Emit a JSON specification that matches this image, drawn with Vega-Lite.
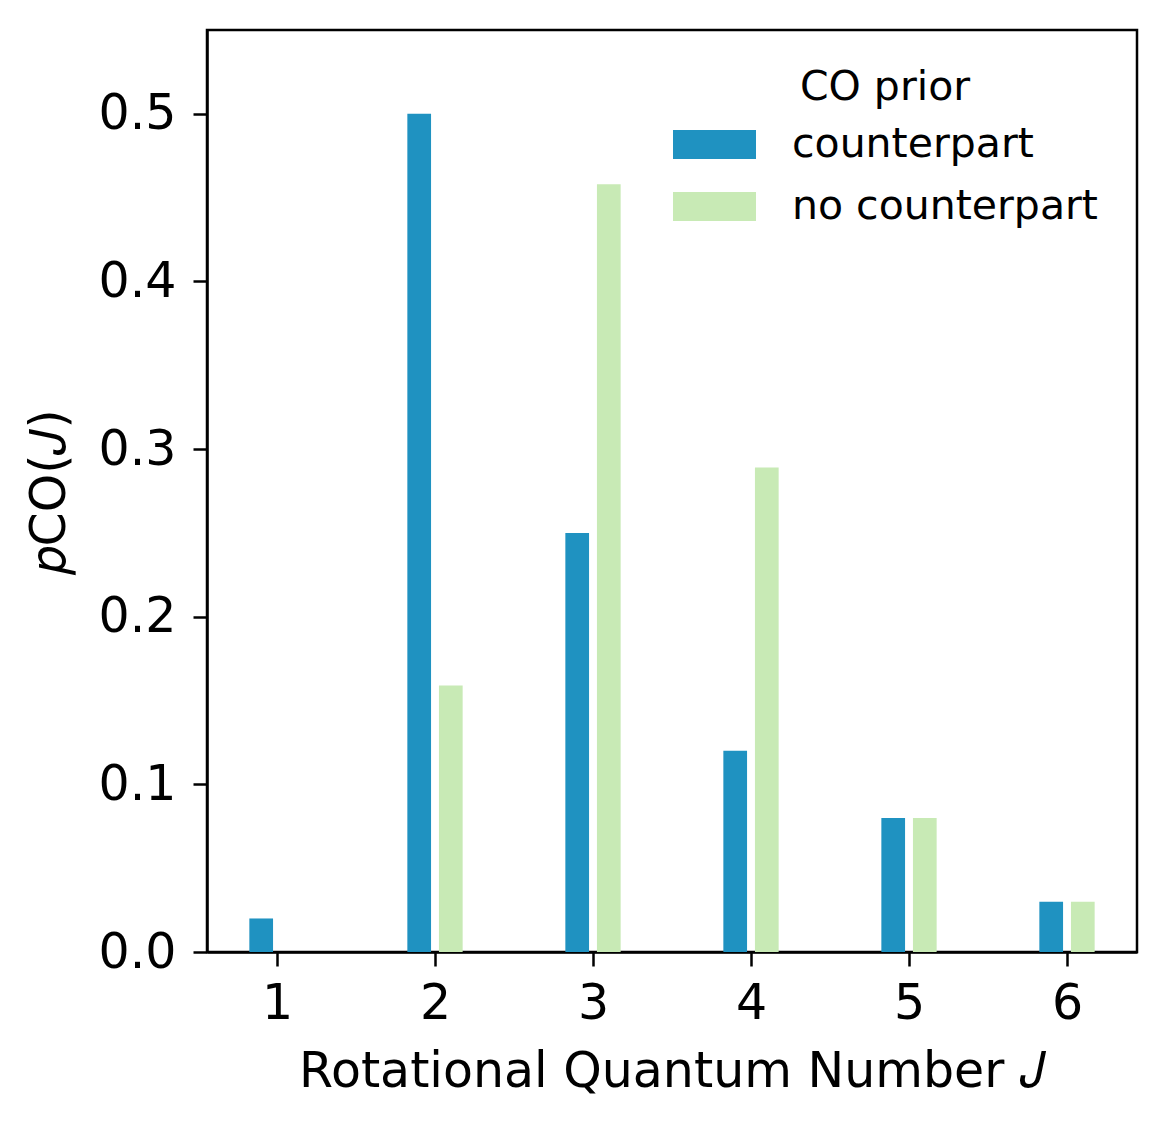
{
  "$schema": "https://vega.github.io/schema/vega-lite/v6.json",
  "width": 930,
  "height": 922,
  "autosize": {"type": "none"},
  "padding": {"left": 207, "top": 30, "right": 30, "bottom": 177},
  "background": "white",
  "data": {
    "values": [
      {"J": 1, "prior": "counterpart", "p": 0.02},
      {"J": 2, "prior": "counterpart", "p": 0.5},
      {"J": 3, "prior": "counterpart", "p": 0.25},
      {"J": 4, "prior": "counterpart", "p": 0.12},
      {"J": 5, "prior": "counterpart", "p": 0.08},
      {"J": 6, "prior": "counterpart", "p": 0.03},
      {"J": 1, "prior": "no counterpart", "p": 0},
      {"J": 2, "prior": "no counterpart", "p": 0.159},
      {"J": 3, "prior": "no counterpart", "p": 0.458},
      {"J": 4, "prior": "no counterpart", "p": 0.289},
      {"J": 5, "prior": "no counterpart", "p": 0.08},
      {"J": 6, "prior": "no counterpart", "p": 0.03}
    ]
  },
  "transform": [
    {"calculate": "datum.prior == 'counterpart' ? -0.1 : 0.1", "as": "off"},
    {"calculate": "datum.J + datum.off - 0.075", "as": "lo"},
    {"calculate": "datum.J + datum.off + 0.075", "as": "hi"}
  ],
  "mark": {"type": "bar", "clip": true},
  "encoding": {
    "x": {
      "field": "lo",
      "type": "quantitative",
      "scale": {"domain": [0.557, 6.443], "nice": false, "zero": false},
      "axis": {"values": [1, 2, 3, 4, 5, 6], "format": "d"},
      "title": "Rotational Quantum Number 𝐽"
    },
    "x2": {"field": "hi"},
    "y": {
      "field": "p",
      "type": "quantitative",
      "scale": {"domain": [0, 0.55], "nice": false, "padding": 0},
      "axis": {"values": [0, 0.1, 0.2, 0.3, 0.4, 0.5], "format": ".1f", "titlePadding": 24},
      "title": "𝑝CO(𝐽)"
    },
    "y2": {"datum": 0},
    "color": {
      "field": "prior",
      "type": "nominal",
      "scale": {"domain": ["counterpart", "no counterpart"], "range": ["#1f92c1", "#c8eab5"]},
      "legend": {
        "title": "CO prior",
        "orient": "none",
        "legendX": 466,
        "legendY": 38,
        "titleAnchor": "middle",
        "titleFontWeight": "normal",
        "titleFontSize": 41,
        "titleFont": "DejaVu Sans",
        "titleColor": "black",
        "titlePadding": -6,
        "labelFontSize": 41,
        "labelFont": "DejaVu Sans",
        "labelColor": "black",
        "labelOffset": 36,
        "labelLimit": 600,
        "symbolType": "M-1,-0.35H1V0.35H-1Z",
        "symbolSize": 6889,
        "symbolStrokeWidth": 0,
        "symbolOpacity": 1,
        "rowPadding": 0
      }
    }
  },
  "config": {
    "view": {"stroke": "black", "strokeWidth": 2.5},
    "axis": {
      "grid": false,
      "domainColor": "black",
      "domainWidth": 2.5,
      "tickColor": "black",
      "tickWidth": 2.5,
      "tickSize": 14,
      "labelFont": "DejaVu Sans",
      "labelFontSize": 49,
      "labelColor": "black",
      "titleFont": "DejaVu Sans",
      "titleFontSize": 49,
      "titleFontWeight": "normal",
      "titleColor": "black"
    },
    "axisX": {"labelPadding": 13, "titlePadding": 19},
    "axisY": {"labelPadding": 17}
  }
}
